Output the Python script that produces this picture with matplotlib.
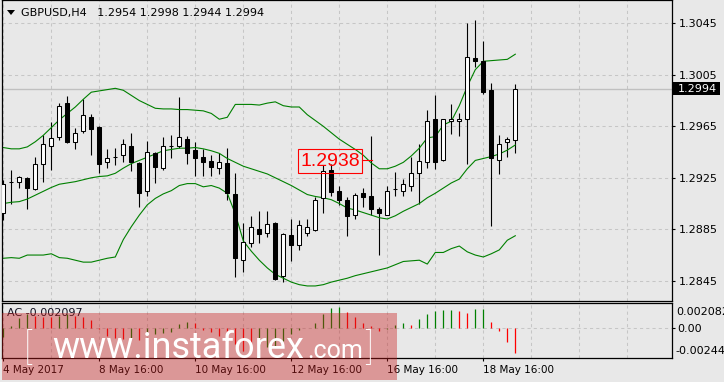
import matplotlib
matplotlib.use("Agg")
import matplotlib.pyplot as plt
import matplotlib.transforms as mtransforms
from matplotlib.patches import Rectangle, Polygon
import numpy as np

# GBPUSD H4 candles (oldest -> newest)
opens = [1.28980, 1.29220, 1.29215, 1.29250, 1.29160, 1.29355, 1.29500, 1.29570, 1.29830, 1.29525,
         1.29610, 1.29720, 1.29645, 1.29370, 1.29410, 1.29425, 1.29500, 1.29365, 1.29145, 1.29440,
         1.29330, 1.29500, 1.29495, 1.29550, 1.29465, 1.29410, 1.29380, 1.29330, 1.29365, 1.29125,
         1.28610, 1.28740, 1.28850, 1.28820, 1.28900, 1.28485, 1.28805, 1.28730, 1.28820, 1.28845,
         1.29090, 1.29310, 1.29150, 1.29080, 1.28960, 1.29130, 1.29110, 1.29010, 1.28960, 1.29160,
         1.29150, 1.29190, 1.29285, 1.29370, 1.29705, 1.29390, 1.29690, 1.29690, 1.29710, 1.30180,
         1.30160, 1.29930, 1.29390, 1.29525, 1.29540]
highs = [1.29230, 1.29310, 1.29265, 1.29255, 1.29410, 1.29580, 1.29680, 1.29830, 1.29885, 1.29640,
         1.29865, 1.29745, 1.29650, 1.29470, 1.29480, 1.29550, 1.29600, 1.29370, 1.29535, 1.29450,
         1.29570, 1.29580, 1.29880, 1.29575, 1.29530, 1.29470, 1.29430, 1.29445, 1.29480, 1.29290,
         1.28900, 1.28950, 1.28990, 1.28990, 1.28910, 1.28820, 1.28930, 1.28920, 1.28930, 1.29100,
         1.29350, 1.29360, 1.29190, 1.29100, 1.29135, 1.29170, 1.29575, 1.29020, 1.29190, 1.29295,
         1.29240, 1.29410, 1.29510, 1.29780, 1.29890, 1.29710, 1.29820, 1.29750, 1.30450, 1.30475,
         1.30310, 1.29985, 1.29580, 1.29570, 1.29980]
lows = [1.28920, 1.29050, 1.29170, 1.29005, 1.29155, 1.29220, 1.29310, 1.29540, 1.29520, 1.29475,
        1.29595, 1.29430, 1.29290, 1.29330, 1.29350, 1.29370, 1.29300, 1.29020, 1.29110, 1.29210,
        1.29310, 1.29405, 1.29480, 1.29360, 1.29265, 1.29265, 1.29265, 1.29280, 1.29080, 1.28480,
        1.28520, 1.28715, 1.28740, 1.28790, 1.28455, 1.28440, 1.28600, 1.28690, 1.28800, 1.28840,
        1.28980, 1.29110, 1.29035, 1.28800, 1.28930, 1.29020, 1.28960, 1.28650, 1.28960, 1.29110,
        1.29110, 1.29145, 1.29050, 1.29330, 1.29320, 1.29380, 1.29590, 1.29575, 1.29355, 1.30110,
        1.29900, 1.28875, 1.29280, 1.29410, 1.29440]
closes = [1.29200, 1.29220, 1.29260, 1.29170, 1.29360, 1.29510, 1.29560, 1.29805, 1.29530, 1.29600,
          1.29735, 1.29630, 1.29360, 1.29400, 1.29410, 1.29510, 1.29370, 1.29130, 1.29450, 1.29335,
          1.29500, 1.29495, 1.29565, 1.29445, 1.29400, 1.29370, 1.29335, 1.29370, 1.29130, 1.28625,
          1.28750, 1.28865, 1.28810, 1.28890, 1.28465, 1.28815, 1.28725, 1.28880, 1.28865, 1.29080,
          1.29300, 1.29140, 1.29075, 1.28950, 1.29120, 1.29100, 1.29005, 1.28975, 1.29150, 1.29165,
          1.29200, 1.29290, 1.29380, 1.29690, 1.29375, 1.29705, 1.29705, 1.29705, 1.30190, 1.30160,
          1.29920, 1.29400, 1.29510, 1.29550, 1.29940]

# Bollinger bands
bb_upper = [1.29485, 1.29475, 1.29475, 1.29490, 1.29530, 1.29580, 1.29640, 1.29700, 1.29750, 1.29800,
            1.29860, 1.29915, 1.29925, 1.29935, 1.29945, 1.29930, 1.29890, 1.29850, 1.29820, 1.29790,
            1.29785, 1.29785, 1.29780, 1.29780, 1.29775, 1.29770, 1.29750, 1.29705, 1.29720, 1.29820,
            1.29820, 1.29820, 1.29815, 1.29830, 1.29840, 1.29810, 1.29800, 1.29800, 1.29740, 1.29695,
            1.29650, 1.29600, 1.29550, 1.29510, 1.29470, 1.29425, 1.29365, 1.29320, 1.29320, 1.29340,
            1.29370, 1.29420, 1.29480, 1.29560, 1.29570, 1.29660, 1.29690, 1.29810, 1.29960, 1.30090,
            1.30155, 1.30160, 1.30165, 1.30170, 1.30210]
bb_middle = [1.29050, 1.29060, 1.29065, 1.29085, 1.29115, 1.29145, 1.29175, 1.29200, 1.29210, 1.29220,
             1.29235, 1.29250, 1.29260, 1.29265, 1.29285, 1.29325, 1.29360, 1.29385, 1.29410, 1.29435,
             1.29460, 1.29470, 1.29480, 1.29480, 1.29485, 1.29475, 1.29460, 1.29440, 1.29400, 1.29370,
             1.29340, 1.29320, 1.29300, 1.29280, 1.29250, 1.29220, 1.29190, 1.29155, 1.29120, 1.29105,
             1.29095, 1.29080, 1.29050, 1.29015, 1.29000, 1.28980, 1.28960, 1.28940, 1.28930, 1.28955,
             1.28990, 1.29020, 1.29050, 1.29095, 1.29130, 1.29170, 1.29210, 1.29240, 1.29320, 1.29385,
             1.29400, 1.29415, 1.29435, 1.29465, 1.29505]
bb_lower = [1.28625, 1.28630, 1.28625, 1.28650, 1.28650, 1.28650, 1.28660, 1.28630, 1.28625, 1.28610,
            1.28595, 1.28595, 1.28610, 1.28625, 1.28635, 1.28770, 1.28870, 1.28960, 1.29040, 1.29090,
            1.29125, 1.29150, 1.29190, 1.29205, 1.29205, 1.29180, 1.29190, 1.29170, 1.29130, 1.28970,
            1.28760, 1.28680, 1.28610, 1.28550, 1.28500, 1.28470, 1.28440, 1.28420, 1.28410, 1.28410,
            1.28420, 1.28440, 1.28455, 1.28470, 1.28490, 1.28505, 1.28520, 1.28535, 1.28550, 1.28575,
            1.28600, 1.28605, 1.28610, 1.28580, 1.28670, 1.28670, 1.28700, 1.28720, 1.28675, 1.28650,
            1.28635, 1.28660, 1.28690, 1.28765, 1.28800]

# Accelerator oscillator
ac_values = [-0.00079, 0.00024, 0.00089, 0.00119, 0.00110, 0.00101, 0.00093, 0.00106, 0.00119, 0.00110,
             0.00093, 0.00071, -0.00003, -0.00069, -0.00086, -0.00095, -0.00086, -0.00101, -0.00058, -0.00045,
             -0.00038, -0.00028, 0.00037, 0.00054, 0.00043, -0.00015, -0.00032, -0.00070, -0.00092, -0.00135,
             -0.00195, -0.00204, -0.00178, -0.00165, -0.00152, -0.00113, -0.00053, -0.00015, 0.00003, 0.00048,
             0.00123, 0.00177, 0.00183, 0.00143, 0.00100, 0.00048, 0.00024, -0.00019, -0.00002, 0.00028,
             0.00048, 0.00028, 0.00080, 0.00123, 0.00151, 0.00156, 0.00159, 0.00149, 0.00134, 0.00166,
             0.00168, 0.00054, -0.00021, -0.00115, -0.002097]

price_ticks = [1.2845, 1.2885, 1.2925, 1.2965, 1.3005, 1.3045]
time_ticks = [0, 12, 24, 36, 48, 60]
time_labels = ["4 May 2017", "8 May 16:00", "10 May 16:00", "12 May 16:00", "16 May 16:00", "18 May 16:00"]
bid = 1.2994
marked_level = 1.2938

W, H = 724, 382
BG = "#E8E8E8"
GRID = "#C6C6C6"


def fx(x):
    return x / W


def fy(y):
    return 1 - y / H


fig = plt.figure(figsize=(W / 100, H / 100), dpi=100)
fig.patch.set_facecolor(BG)

ax = fig.add_axes([fx(2), fy(300.7), (671.7 - 2) / W, 300.7 / H])
ax2 = fig.add_axes([fx(2), fy(357.7), (671.7 - 2) / W, 55 / H])

o = np.array(opens)
h = np.array(highs)
l = np.array(lows)
c = np.array(closes)
idx = np.arange(len(c))

# price scale: 12875 px per 1.0 of price, 1.3045 sits 23.3 px below top
ppu = 12875.0
ax.set_ylim(1.3045 - (300.7 - 23.3) / ppu, 1.3045 + 23.3 / ppu)
xlim = ((2 - 3.3) / 8, (671.7 - 3.3) / 8)
ax.set_xlim(*xlim)
ax2.set_xlim(*xlim)

for a in (ax, ax2):
    a.set_facecolor(BG)
    for s in a.spines.values():
        s.set_color("black")
        s.set_linewidth(0.9)
    for k in range(0, 84, 6):
        a.axvline(k, color=GRID, lw=0.75, ls=(0, (3, 3)), zorder=0)

for p in price_ticks:
    ax.axhline(p, color=GRID, lw=0.75, ls=(0, (3, 3)), zorder=0)
ax.axhline(bid, color="#C0C0C0", lw=1.0, zorder=1)

# candles
ax.vlines(idx, l, h, color="black", lw=0.8, zorder=2)
bull = c >= o
ax.bar(idx, np.abs(c - o), bottom=np.minimum(o, c), width=0.5,
       color=np.where(bull, "white", "black"), edgecolor="black", linewidth=0.75, zorder=3)

# bollinger bands
for band in (bb_upper, bb_middle, bb_lower):
    ax.plot(idx, band, color="#008000", lw=0.8, zorder=2)

ax.yaxis.tick_right()
ax.set_yticks(price_ticks)
ax.set_yticklabels([f"{p:.4f}" for p in price_ticks])
ax.tick_params(axis="y", length=2.5, width=0.8, pad=2.5, labelsize=8, colors="black")
ax.tick_params(axis="x", bottom=False, labelbottom=False)

# current price marker on the right
blend = mtransforms.blended_transform_factory(ax.transAxes, ax.transData)
ax.add_patch(Rectangle((1 + 1.5 / 669.7, bid - 6.5 / ppu), 47 / 669.7, 13 / ppu,
                       transform=blend, facecolor="black", edgecolor="none", clip_on=False, zorder=5))
ax.text(1 + 6 / 669.7, bid, f"{bid:.4f}", transform=blend, color="white", fontsize=8,
        va="center", ha="left", zorder=6)

# marked level label
ax.add_patch(Rectangle((36.875, marked_level - 12 / ppu), 7.925, 24 / ppu,
                       fill=False, edgecolor="red", lw=0.8, zorder=6))
ax.text(40.84, marked_level, "1.2938", color="red", fontsize=14, family="Liberation Sans",
        ha="center", va="center", zorder=6)
ax.plot([44.8, 46.05], [marked_level + 1 / ppu] * 2, color="red", lw=0.8, zorder=6)

# header
fig.text(fx(21), fy(12.7), "GBPUSD,H4   1.2954 1.2998 1.2944 1.2994", fontsize=8,
         color="black", va="center", ha="left")
fig.add_artist(Polygon([[fx(7), fy(10)], [fx(15), fy(10)], [fx(11), fy(15)]],
                       closed=True, transform=fig.transFigure, facecolor="black", edgecolor="none"))

# AC panel
ac = np.array(ac_values)
prev = np.concatenate([[-np.inf], ac[:-1]])
ac_colors = np.where(ac > prev, "#008000", "#FF0000")
ax2.axhline(0, color=GRID, lw=0.75, ls=(0, (3, 3)), zorder=0)
ax2.vlines(idx, 0, ac, colors=ac_colors, lw=0.9, zorder=2)
acu = 11636.0
ax2.set_ylim(-(357.7 - 328.3) / acu, (328.3 - 302.7) / acu)
ax2.yaxis.tick_right()
ax2.set_yticks([0])
ax2.set_yticklabels(["0.00"])
ax2.tick_params(axis="y", length=2.5, width=0.8, pad=1.5, labelsize=8, colors="black")
ax2.text(1 + 4.3 / 669.7, (357.7 - 311.7) / 55, "0.002082", transform=ax2.transAxes,
         fontsize=8, va="center", ha="left", clip_on=False)
ax2.text(1 + 3.3 / 669.7, (357.7 - 350.7) / 55, "-0.00244", transform=ax2.transAxes,
         fontsize=8, va="center", ha="left", clip_on=False)
ax2.set_xticks(time_ticks)
ax2.set_xticklabels(time_labels, ha="left")
ax2.tick_params(axis="x", length=2.5, width=0.8, pad=2.5, labelsize=7.5, colors="black")
fig.text(fx(7.3), fy(313.5), "AC -0.002097", fontsize=8, color="#101020", va="center", ha="left")

# watermark
fig.add_artist(Rectangle((fx(2), fy(380)), (397 - 2) / W, (380 - 313) / H, transform=fig.transFigure,
                         facecolor="#C81E1E", alpha=0.4, edgecolor="none", zorder=10))
wm = dict(color="white", family="Roboto", va="baseline", ha="left", zorder=11)
fig.text(fx(24), fy(359), "[", fontsize=26, weight="light", **wm)
fig.text(fx(52), fy(358.3), "www.instaforex", fontsize=26, **wm)
fig.text(fx(307), fy(358.3), ".com", fontsize=18, **wm)
fig.text(fx(365), fy(359), "]", fontsize=26, weight="light", **wm)

fig.savefig("out.png", dpi=100, facecolor=BG)
